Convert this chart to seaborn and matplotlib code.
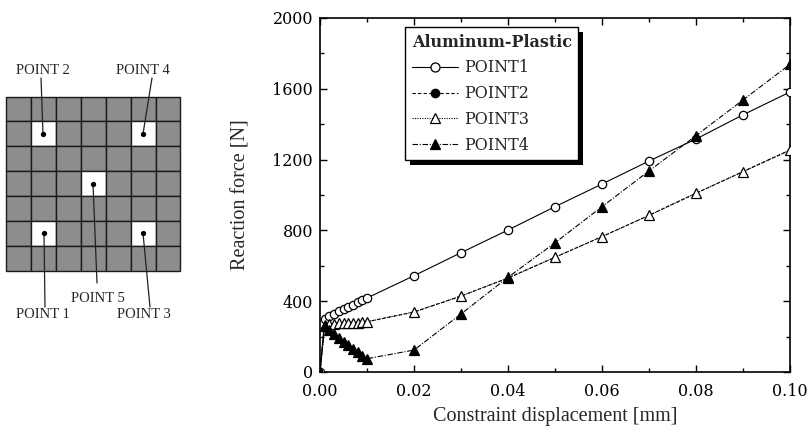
import numpy as np
import pandas as pd
import matplotlib
matplotlib.use("Agg")
import matplotlib.pyplot as plt
from matplotlib.patches import Rectangle
from matplotlib.ticker import MultipleLocator, FormatStrFormatter
import seaborn as sns

# ---------------- data ----------------
disp = [0.0, 0.001, 0.002, 0.003, 0.004, 0.005, 0.006, 0.007, 0.008, 0.009, 0.010,
        0.02, 0.03, 0.04, 0.05, 0.06, 0.07, 0.08, 0.09, 0.10]
point1 = [0, 302, 316, 329, 342, 355, 368, 381, 394, 406, 418,
          544, 674, 802, 934, 1062, 1192, 1316, 1453, 1582]
point3 = [0, 266, 272, 274, 275, 276, 277, 278, 279, 281, 284,
          339, 429, 531, 648, 765, 885, 1010, 1132, 1254]
point2 = list(point3)  # coincides with POINT3 (symmetric position)
point4 = [0, 258, 236, 214, 193, 172, 151, 131, 111, 92, 75,
          124, 328, 535, 730, 934, 1136, 1335, 1537, 1738]
series_names = ["POINT1", "POINT2", "POINT3", "POINT4"]
legend_title = "Aluminum-Plastic"
x_ticks = [0.00, 0.02, 0.04, 0.06, 0.08, 0.10]
y_ticks = [0, 400, 800, 1200, 1600, 2000]

df = pd.DataFrame({"disp": disp, "POINT1": point1, "POINT2": point2,
                   "POINT3": point3, "POINT4": point4})

sns.set_style("ticks")
plt.rcParams["font.family"] = ["DejaVu Serif"]

W, H = 810, 438
fig = plt.figure(figsize=(W / 100, H / 100), dpi=100)

# ---------------- left schematic ----------------
ov = fig.add_axes([0, 0, 1, 1], zorder=-1)
ov.set_xlim(0, W)
ov.set_ylim(H, 0)
ov.axis("off")
x0, y0, size = 6, 96.5, 174.5
n = 7
c = size / n
white = {(1, 1), (1, 5), (3, 3), (5, 1), (5, 5)}
for r in range(n):
    for k in range(n):
        fc = "white" if (r, k) in white else "#8d8d8f"
        ov.add_patch(Rectangle((x0 + k * c, y0 + r * c), c, c, facecolor=fc,
                               edgecolor="#1a1a1a", lw=1.0))
lf = dict(family="Liberation Serif", fontsize=10.5, ha="center", va="center")
pts = {
    "POINT 2": ((43, 134), (41, 78), (43, 70)),
    "POINT 4": ((143, 134), (152, 78), (143, 70)),
    "POINT 5": ((93, 184), (97, 283), (98, 298)),
    "POINT 1": ((44, 233), (45, 307), (43, 314)),
    "POINT 3": ((143, 233), (150, 307), (144, 314)),
}
for lab, (dot, end, tpos) in pts.items():
    ov.plot([dot[0], end[0]], [dot[1], end[1]], color="#222222", lw=0.9)
    ov.plot(dot[0], dot[1], "o", color="black", ms=2.8)
    ov.text(tpos[0], tpos[1], lab, **lf)

# ---------------- main chart ----------------
ax = fig.add_axes([320 / W, (H - 372) / H, 470 / W, 354 / H])
lw = 0.8
sns.lineplot(data=df, x="disp", y="POINT1", ax=ax, color="black", lw=lw,
             linestyle="-", marker="o", ms=6, mfc="white", mec="black", mew=0.9,
             label="POINT1", zorder=3)
sns.lineplot(data=df, x="disp", y="POINT2", ax=ax, color="black", lw=lw,
             linestyle=(0, (3, 2)), marker="o", ms=2.2, mfc="black", mec="black",
             mew=0.5, label="POINT2", zorder=3)
sns.lineplot(data=df, x="disp", y="POINT3", ax=ax, color="black", lw=lw,
             linestyle=(0, (1, 1.2)), marker="^", ms=6.5, mfc="white", mec="black",
             mew=0.9, label="POINT3", zorder=4)
sns.lineplot(data=df, x="disp", y="POINT4", ax=ax, color="black", lw=lw,
             linestyle=(0, (5, 1.5, 1, 1.5)), marker="^", ms=6.5, mfc="black",
             mec="black", mew=0.9, label="POINT4", zorder=5)

ax.set_xlim(0, 0.10)
ax.set_ylim(0, 2000)
ax.set_xticks(x_ticks)
ax.set_yticks(y_ticks)
ax.xaxis.set_major_formatter(FormatStrFormatter("%.2f"))
ax.xaxis.set_minor_locator(MultipleLocator(0.01))
ax.yaxis.set_minor_locator(MultipleLocator(200))
ax.tick_params(which="both", direction="in", top=True, right=True,
               labelsize=11.5, width=1.0, colors="black")
ax.tick_params(axis="y", pad=5)
ax.tick_params(axis="x", pad=8)
ax.tick_params(which="major", length=5)
ax.tick_params(which="minor", length=3)
for s in ax.spines.values():
    s.set_linewidth(1.2)
    s.set_color("black")
ax.set_xlabel("Constraint displacement [mm]", family="Liberation Serif",
              fontsize=14.5, labelpad=5)
ax.set_ylabel("Reaction force [N]", family="Liberation Serif",
              fontsize=14.5, labelpad=16)

# legend on a top overlay with a solid black drop shadow
handles, labels = ax.get_legend_handles_labels()
if ax.get_legend() is not None:
    ax.get_legend().remove()
ov3 = fig.add_axes(ax.get_position(), zorder=ax.get_zorder() + 1)
ov3.axis("off")
leg = ov3.legend(handles=handles, labels=labels,
                 loc="upper left", bbox_to_anchor=(0.181, 0.975), borderaxespad=0,
                 title=legend_title, fontsize=11.5, handlelength=2.9,
                 handletextpad=0.4, labelspacing=0.55, borderpad=0.42,
                 frameon=True, fancybox=False, edgecolor="black", framealpha=1,
                 alignment="left",
                 title_fontproperties={"weight": "bold", "size": 11.5})
leg.get_frame().set_linewidth(1.0)
for h in leg.legend_handles:
    h.set_markersize(6.5)

fig.canvas.draw()
bb = leg.get_window_extent()
ov2 = fig.add_axes([0, 0, 1, 1], zorder=ax.get_zorder() + 0.5)
ov2.set_xlim(0, W)
ov2.set_ylim(0, H)
ov2.axis("off")
ov2.patch.set_alpha(0)
ov2.add_patch(Rectangle((bb.x0 + 5, bb.y0 - 5), bb.width, bb.height,
                        facecolor="black", edgecolor="none"))

fig.savefig("out.png", dpi=100)
